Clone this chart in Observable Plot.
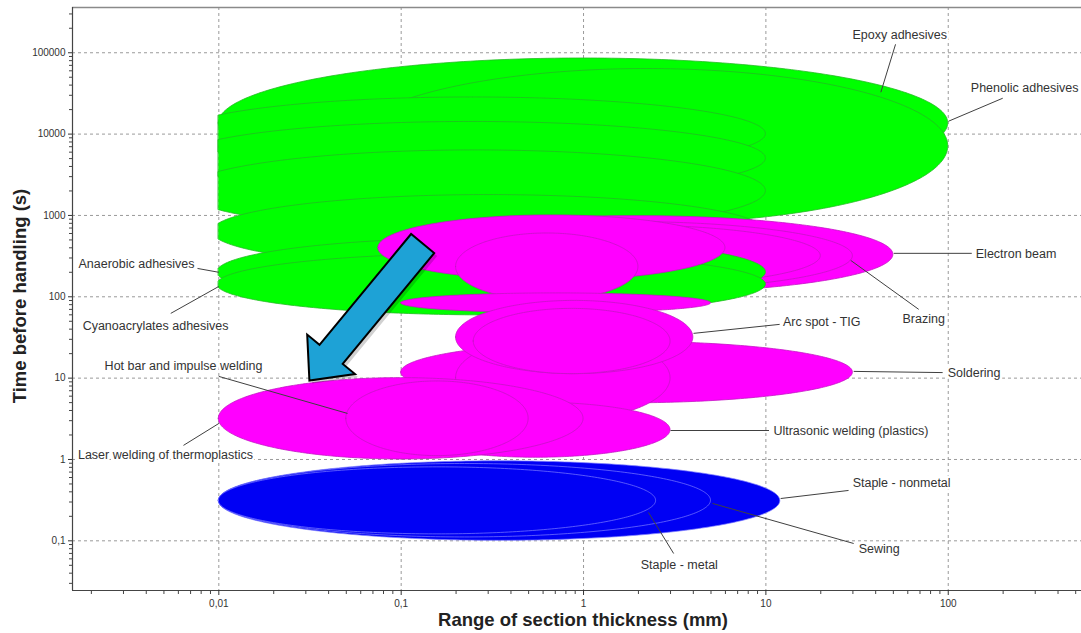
<!DOCTYPE html>
<html><head><meta charset="utf-8">
<script src="https://cdn.jsdelivr.net/npm/d3@7"></script>
<script src="https://cdn.jsdelivr.net/npm/@observablehq/plot@0.6"></script>
<style>
body{margin:0;background:#fff;font-family:"Liberation Sans",Arial,sans-serif}
#chart{width:1081px;height:633px}
</style>
</head><body><div id="chart"></div>
<script>
// ---------- data ----------
// Each process is a bubble spanning [thicknessMin, thicknessMax] (mm) x [timeMin, timeMax] (s); listed in drawing order
const processNames = [
  "Epoxy adhesives", "Phenolic adhesives", "Adhesive (unlabelled 1)", "Adhesive (unlabelled 2)",
  "Adhesive (unlabelled 3)", "Adhesive (unlabelled 4)",
  "Electron beam", "Brazing", "Beam/braze (unlabelled)",
  "Anaerobic adhesives", "Cyanoacrylates adhesives",
  "Thermal (unlabelled 1)", "Thermal (unlabelled 2)", "Thermal (unlabelled 3)",
  "Soldering", "Thermal (unlabelled 4)", "Arc spot - TIG", "Arc spot (inner)",
  "Ultrasonic welding (plastics)", "Laser welding of thermoplastics", "Hot bar and impulse welding",
  "Staple - nonmetal", "Sewing", "Staple - metal"
];
const processFamily = [
  "adhesive","adhesive","adhesive","adhesive","adhesive","adhesive",
  "thermal","thermal","thermal",
  "adhesive","adhesive",
  "thermal","thermal","thermal",
  "thermal","thermal","thermal","thermal",
  "thermal","thermal","thermal",
  "mechanical","mechanical","mechanical"
];
const thicknessMin = [0.01, 0.05, 0.006, 0.006, 0.0065, 0.0092, 0.075, 0.1, 0.12, 0.0098, 0.0098, 0.075, 0.2, 0.1, 0.1, 0.2, 0.2, 0.25, 0.1, 0.01, 0.05, 0.01, 0.01, 0.01];
const thicknessMax = [100, 100, 10, 10, 10, 10, 50, 30, 20, 10, 10, 6, 2, 5, 30, 3, 4, 3, 3, 1, 0.5, 12, 5, 2.5];
const timeMin = [2150, 794, 3550, 1780, 630, 224, 110, 120, 132, 76, 59, 158, 90, 63, 4.9, 3, 11.2, 11.2, 1.05, 1, 1.1, 0.1, 0.11, 0.12];
const timeMax = [85000, 63100, 28200, 14100, 6300, 1780, 980, 830, 760, 525, 339, 1000, 600, 110, 28, 33, 89, 71, 5, 10, 9.1, 0.95, 0.88, 0.8];

const xTickValues = [0.01, 0.1, 1, 10, 100];
const xTickLabels = ["0,01", "0,1", "1", "10", "100"];
const yTickValues = [0.1, 1, 10, 100, 1000, 10000, 100000];
const yTickLabels = ["0,1", "1", "10", "100", "1000", "10000", "100000"];

// annotation labels with leader lines (data coordinates)
const labelText = ["Epoxy adhesives","Phenolic adhesives","Electron beam","Brazing","Arc spot - TIG","Soldering",
  "Ultrasonic welding (plastics)","Staple - nonmetal","Sewing","Staple - metal","Anaerobic adhesives",
  "Cyanoacrylates adhesives","Hot bar and impulse welding","Laser welding of thermoplastics"];
const labelX = [54.2, 133, 141.6, 73.3, 12.4, 99.3, 11.0, 29.9, 32.3, 2.06, 0.00736, 0.0045, 0.0064, 0.0051];
const labelY = [164000, 36600, 332, 52.7, 48.4, 11.4, 2.27, 0.521, 0.0782, 0.0511, 250, 43.3, 13.9, 1.12];
const labelAnchor = ["middle","start","start","middle","start","start","start","start","start","start","end","middle","middle","middle"];
const leaderFromX = [42.7, 100.4, 50.2, 29.2, 4.01, 30.3, 3.0, 12.05, 5.1, 2.27, 0.01, 0.01, 0.0508, 0.01];
const leaderFromY = [32700, 14400, 342, 280, 35.5, 12.1, 2.27, 0.331, 0.288, 0.223, 200, 134, 3.68, 2.77];
const leaderToX = [51.4, 199, 134.6, 68.9, 11.9, 93.2, 10.4, 28.4, 30.3, 3.12, 0.00764, 0.00545, 0.01, 0.0064];
const leaderToY = [127000, 27600, 342, 70, 45.8, 11.7, 2.27, 0.416, 0.0927, 0.0698, 223, 62.5, 10.5, 1.49];

// big blue arrow (annotation), from tail to tip
const arrowTail = [0.132, 445];
const arrowTip = [0.0316, 9.2];

// ---------- styles ----------
const familyFill = {adhesive: "#00ff00", thermal: "#ff00ff", mechanical: "#0000f4"};
const familyStroke = {adhesive: "#22bb22", thermal: "#c414c4", mechanical: "#7c7cff"};
const xDomain = [0.001576, 538];
const yDomain = [0.0245, 360000];
const clipThickness = 0.01;

// ellipse (in log-log space) outline points for one process
function ellipsePoints(i) {
  const lx1 = Math.log10(thicknessMin[i]), lx2 = Math.log10(thicknessMax[i]);
  const ly1 = Math.log10(timeMin[i]), ly2 = Math.log10(timeMax[i]);
  const cx = (lx1 + lx2) / 2, a = (lx2 - lx1) / 2, cy = (ly1 + ly2) / 2, b = (ly2 - ly1) / 2;
  const clip = Math.log10(clipThickness);
  const th0 = lx1 < clip ? Math.acos((cx - clip) / a) : 0;
  const N = 160, pts = [];
  for (let k = 0; k <= N; k++) {
    const th = th0 + (Math.PI - th0) * k / N;
    const lx = cx - a * Math.cos(th);
    const h = b * Math.sin(th);
    pts.push({x: 10 ** lx, y1: 10 ** (cy - h), y2: 10 ** (cy + h)});
  }
  return pts;
}

const minorX = [], minorY = [];
for (let e = -3; e <= 2; e++) for (let m = 2; m <= 9; m++) { const v = m * 10 ** e; if (v > xDomain[0] && v < xDomain[1]) minorX.push(v); }
for (let e = -2; e <= 5; e++) for (let m = 2; m <= 9; m++) { const v = m * 10 ** e; if (v > yDomain[0] && v < yDomain[1]) minorY.push(v); }

function arrowMark(index, scales) {
  const sx = scales.x, sy = scales.y;
  const x0 = sx(arrowTail[0]), y0 = sy(arrowTail[1]);
  const x1 = sx(arrowTip[0]), y1 = sy(arrowTip[1]);
  const dx = x1 - x0, dy = y1 - y0, len = Math.hypot(dx, dy);
  const ux = dx / len, uy = dy / len, nx = -uy, ny = ux;
  const w = 15, W = 31, L = 34;
  const hx = x1 - ux * L, hy = y1 - uy * L;
  const P = [[x0 + nx * w, y0 + ny * w], [hx + nx * w, hy + ny * w], [hx + nx * W, hy + ny * W], [x1, y1],
             [hx - nx * W, hy - ny * W], [hx - nx * w, hy - ny * w], [x0 - nx * w, y0 - ny * w]];
  const d = "M" + P.map(p => p[0].toFixed(1) + "," + p[1].toFixed(1)).join("L") + "Z";
  const g = document.createElementNS("http://www.w3.org/2000/svg", "g");
  const sh = document.createElementNS("http://www.w3.org/2000/svg", "path");
  sh.setAttribute("d", d); sh.setAttribute("fill", "#000"); sh.setAttribute("opacity", "0.18");
  sh.setAttribute("transform", "translate(3,3)");
  const p = document.createElementNS("http://www.w3.org/2000/svg", "path");
  p.setAttribute("d", d); p.setAttribute("fill", "#1ea2d6"); p.setAttribute("stroke", "#000");
  p.setAttribute("stroke-width", "2"); p.setAttribute("stroke-linejoin", "miter");
  g.appendChild(sh); g.appendChild(p);
  return g;
}

const ellipseMarks = processNames.map((name, i) =>
  Plot.areaY(ellipsePoints(i), {x: "x", y1: "y1", y2: "y2", curve: "linear",
    fill: familyFill[processFamily[i]], stroke: familyStroke[processFamily[i]],
    strokeWidth: processFamily[i] === "mechanical" ? 0.7 : 0.8}));

const labelIdx = labelText.map((_, i) => i);
const labelMarks = ["start", "middle", "end"].map(anchor =>
  Plot.text(labelIdx.filter(i => labelAnchor[i] === anchor), {
    x: i => labelX[i], y: i => labelY[i], text: i => labelText[i],
    textAnchor: anchor, fontSize: 12.5, fill: "#333", stroke: "white", strokeWidth: 5
  }));

const chart = Plot.plot({
  width: 1081, height: 633,
  marginLeft: 72, marginTop: 7, marginBottom: 43, marginRight: 0,
  style: {fontFamily: "'Liberation Sans', Arial, sans-serif", fontSize: "10px", background: "white", overflow: "visible"},
  x: {type: "log", domain: xDomain, label: null},
  y: {type: "log", domain: yDomain, label: null},
  marks: [
    Plot.ruleX(xTickValues, {stroke: "#9a9a9a", strokeWidth: 1, strokeDasharray: "3,3"}),
    Plot.ruleY(yTickValues, {stroke: "#9a9a9a", strokeWidth: 1, strokeDasharray: "3,3"}),
    ...ellipseMarks,
    Plot.link(labelIdx, {x1: i => leaderFromX[i], y1: i => leaderFromY[i], x2: i => leaderToX[i], y2: i => leaderToY[i], stroke: "#404040", strokeWidth: 1}),
    arrowMark,
    ...labelMarks,
    Plot.ruleY([yDomain[1]], {stroke: "#8a8a8a", strokeWidth: 1.5}),
    Plot.ruleX([xDomain[0]], {stroke: "#444", strokeWidth: 1.2}),
    Plot.ruleY([yDomain[0]], {stroke: "#444", strokeWidth: 1.2}),
    Plot.axisX(xTickValues, {tickFormat: d => xTickLabels[xTickValues.indexOf(d)], tickSize: 5, tickPadding: 4, fontSize: 10, color: "#333", label: null}),
    Plot.axisX(minorX, {tickFormat: () => "", tickSize: 4, color: "#444", label: null}),
    Plot.axisY(yTickValues, {tickFormat: d => yTickLabels[yTickValues.indexOf(d)], tickSize: 4, tickPadding: 3, fontSize: 10, color: "#333", label: null}),
    Plot.axisY(minorY, {tickFormat: () => "", tickSize: 3, color: "#444", label: null}),
    Plot.text(["Range of section thickness (mm)"], {frameAnchor: "bottom", textAnchor: "middle", lineAnchor: "middle", dy: 30, dx: 6, fontSize: 18.5, fontWeight: "bold", fill: "#222"}),
    Plot.text(["Time before handling (s)"], {frameAnchor: "left", textAnchor: "middle", lineAnchor: "middle", dx: -52, dy: -3, rotate: -90, fontSize: 18.5, fontWeight: "bold", fill: "#222"})
  ]
});
document.getElementById("chart").appendChild(chart);
</script>
</body></html>
